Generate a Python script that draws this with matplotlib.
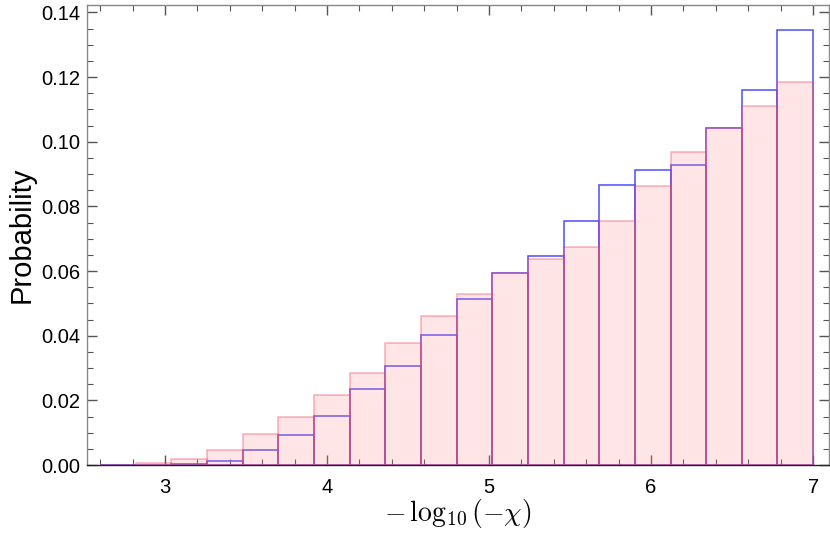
import numpy as np
import matplotlib
matplotlib.use('Agg')
import matplotlib.pyplot as plt
from matplotlib.ticker import MultipleLocator

#----------------------------- data -----------------------------

bin_start = 2.6
bin_width = 0.22
n_bins = 20

# pink (filled) histogram
prob_pink = [0.0001, 0.0007, 0.0019, 0.0048, 0.0096, 0.0147, 0.0216, 0.0284, 0.0376, 0.0460,
             0.0529, 0.0594, 0.0638, 0.0674, 0.0755, 0.0863, 0.0968, 0.1042, 0.1109, 0.1186]
# blue (outline) histogram
prob_blue = [0.0, 0.0, 0.0002, 0.0012, 0.0046, 0.0092, 0.0152, 0.0234, 0.0306, 0.0402,
             0.0514, 0.0594, 0.0645, 0.0754, 0.0867, 0.0912, 0.0928, 0.1042, 0.1160, 0.1346]

x_ticks = [3, 4, 5, 6, 7]
y_ticks = [0.00, 0.02, 0.04, 0.06, 0.08, 0.10, 0.12, 0.14]

#-----------------------------------------------------------------------------------

edges = bin_start + bin_width * np.arange(n_bins)

plt.rcParams['font.family'] = ['Liberation Sans', 'DejaVu Sans']
plt.rcParams['mathtext.fontset'] = 'cm'

fig = plt.figure(figsize=(8.3, 5.35), dpi=100)
ax = fig.add_axes([0.1048, 0.1308, 0.8942, 0.8599])

# blue outline bars first, pink translucent fill on top (gives the purple shared edges)
ax.bar(edges, prob_blue, width=bin_width, align='edge', facecolor='none',
       edgecolor=(0.3, 0.3, 1.0), linewidth=1.1, zorder=2)
ax.bar(edges, prob_pink, width=bin_width, align='edge',
       facecolor=(1.0, 0.55, 0.55, 0.22), edgecolor=(0.95, 0.25, 0.35, 0.35),
       linewidth=1.3, zorder=3)

ax.set_xlim(2.519, 7.099)
ax.set_ylim(0, 0.1423)
ax.set_xticks(x_ticks)
ax.set_yticks(y_ticks)
ax.set_yticklabels(['%.2f' % v for v in y_ticks])
ax.xaxis.set_minor_locator(MultipleLocator(0.2))
ax.yaxis.set_minor_locator(MultipleLocator(0.005))

ax.tick_params(which='both', direction='in', top=True, right=True,
               colors='#555555', labelcolor='black', labelsize=14.5)
ax.tick_params(which='major', length=7, width=1.0)
ax.tick_params(which='minor', length=4, width=0.8)
ax.tick_params(axis='x', pad=9)
ax.tick_params(axis='y', pad=5)

for s in ax.spines.values():
    s.set_color('#888888')
    s.set_linewidth(1.0)
ax.spines['bottom'].set_color('#222222')

ax.set_xlabel(r'$-\,\log_{10}(-\chi)$', fontsize=20, labelpad=0)
ax.set_ylabel('Probability', fontsize=21, labelpad=4)

fig.savefig('out.png', dpi=100)
